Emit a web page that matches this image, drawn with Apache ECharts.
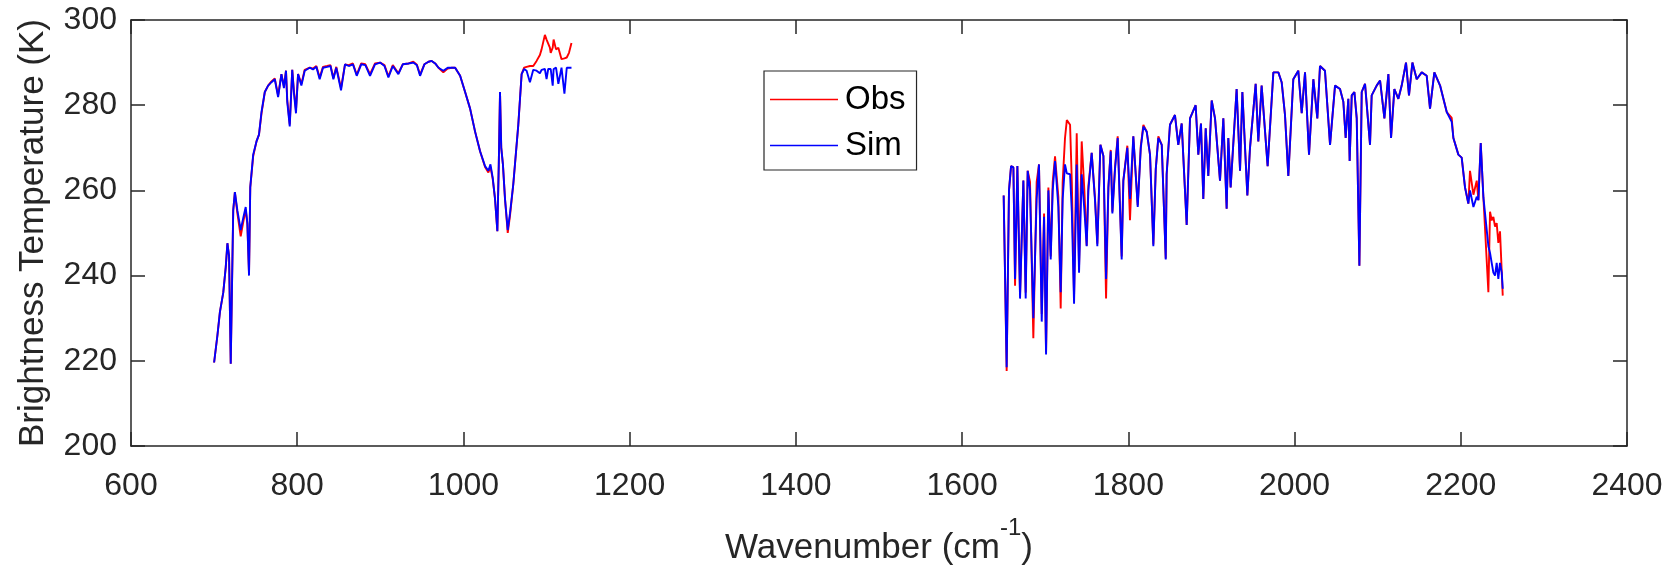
<!DOCTYPE html>
<html>
<head>
<meta charset="utf-8">
<script src="https://cdn.jsdelivr.net/npm/echarts@6/dist/echarts.min.js"></script>
<style>
html,body{margin:0;padding:0;background:#fff;}
#chart{width:1680px;height:571px;}
</style>
</head>
<body>
<div id="chart"></div>
<script>
// ---- Data ----
// Band 1 (long-wave window)
var wn1 = [700,704,707,711,714,716,718,720,723,725,728,732,735,738,740,742,743.5,747,751,754,757,761,765,769,773,777,781,784,786.5,788,791,794,796,798.5,801,805,809,815,819,823,827,831,836,840,843.5,847,852.7,857.5,862,867,871.6,877,882,887.6,893.6,899.7,905,909.7,915,921.7,927,934,939.7,944,947.8,953,958,961.8,966,970,975.8,981,986,990,996,1002,1008,1014,1020,1026,1030,1032.5,1035.2,1038,1040.8,1042.5,1044,1045.5,1047.5,1050,1053.3,1056,1060,1066,1070,1073,1076,1080,1084,1088,1092,1094,1098,1100,1102,1104,1105,1107.4,1108.5,1111.4,1114.2,1118,1121.5,1124.3,1127,1130];
var sim1 = [219.6,226,231.5,236,242,247.6,244.6,219.3,255.3,259.6,255.3,250.7,253.5,256.1,252.3,240,260.7,268.4,271.5,273.1,278.4,283.1,284.6,285.4,286.1,281.9,287.3,284,288.1,280.8,275,288.3,283,278.1,287.3,284.6,288.1,288.8,288.4,289,286.1,288.8,289,289.2,286.1,288.8,283.5,289.6,289.2,289.6,286.9,289.6,289.4,286.9,289.6,290,289.2,286.5,289.2,287.3,289.6,289.8,290,289.4,286.9,289.6,290.2,290.4,289.8,288.8,288.1,288.8,288.8,288.8,286.9,283.1,279.2,273.8,269.2,265.7,264.6,266.1,263,258,250.4,266,283.1,270,266.1,258,250.7,254.6,261.5,275.4,287.3,288.5,288.1,285.4,288.3,288.1,287.5,288.3,288.5,286.1,288.5,288.8,288.5,284.6,288.5,288.8,285,288.8,282.7,288.8,288.8,288.8];
var obs1 = [219.6,226,231.5,236,242,247.6,244.6,219.3,255.3,259.6,254.6,249.2,252.5,255.5,252,240.5,260.7,268,271.5,273.1,278,283.1,284.6,285.6,286.3,282.3,287.3,284.5,288.1,281.3,275.5,288.3,283.5,278.8,287.3,285,288.3,288.8,288.6,289.2,286.5,289,289.2,289.4,286.4,289,284,289.6,289.4,289.8,287.2,289.8,289.6,287.3,289.8,290,289.4,286.8,289.4,287.5,289.6,289.8,290.2,289.5,287.2,289.6,290.2,290.4,289.8,288.8,287.7,288.6,288.8,288.8,286.9,283.1,279.2,273.8,269.2,265.5,264.2,265.5,262.7,258,250.4,266,283.1,270,266.1,258,250,254,261.5,275.4,287.3,288.8,289,289.2,289.2,290.4,291.8,293.1,296.5,295.4,295.5,293.5,292.3,293.5,295.4,293.1,293.5,290.8,291,291.2,292.3,294.6];
// Band 2 (short/mid-wave)
var wn2 = [1650,1653.6,1656.4,1658.9,1661.7,1663.7,1666.5,1669.7,1673.7,1676.5,1678.9,1681.7,1685.7,1689.7,1692.5,1695.8,1698.6,1701,1703.8,1706.6,1709,1711.8,1715.8,1718.6,1721,1723.8,1726,1729.9,1732,1734.7,1737.9,1740.7,1743.9,1747.1,1749.9,1751.9,1755.9,1759.9,1762.7,1766.4,1770,1773.2,1776,1778.8,1780.8,1784,1787.2,1792,1794,1798.8,1802,1806,1811.3,1815,1818.1,1822.1,1826.1,1830.1,1833,1836.1,1840.2,1845,1846.1,1850.1,1856.1,1860.1,1864.2,1870.2,1874.2,1881,1884.2,1887.4,1890.2,1893.1,1896.2,1900.3,1904.3,1910.3,1914.3,1918.3,1920.3,1923.1,1930.3,1934.4,1937.2,1943.2,1946.4,1953.2,1956.4,1960.4,1967.6,1974.5,1980.5,1984.5,1988.5,1992.5,1998.5,2004.5,2008.6,2012.6,2017.4,2022.6,2027.4,2030.6,2036.6,2042.7,2048.7,2054.7,2058.7,2061.5,2064.7,2066.3,2068.8,2072,2074.8,2078,2080.8,2084.8,2090.8,2092.8,2098.8,2102.9,2108.1,2112.9,2116.1,2120.1,2124.9,2128.9,2134.1,2137.7,2141.8,2147,2153,2159,2163,2168.2,2175.1,2183.1,2189.1,2191.1,2197.1,2201.1,2205.1,2209.1,2211.1,2215.2,2219.2,2221.2,2224,2227.2,2233.2,2235.2,2237.2,2239.2,2241.2,2243.2,2245.2,2247.2,2249.3,2250.5];
var sim2 = [258.8,218.5,260,265.7,265.4,239.2,265.7,234.6,262.3,234.6,264.6,260,230,258,266.1,229.2,253.8,221.5,260,243.8,260,266.9,256.1,236.1,258,266.1,264,263.8,255,233.4,266.1,240.7,263.8,255.4,246.9,260,268.8,257.7,246.9,270.7,268.1,239.2,260.7,269.2,254.6,265,272.3,243.8,262.3,270,258,272.7,256.1,270,275,273.8,268.4,246.9,265,272.3,270.7,243.8,263.8,275.4,277.7,270.7,275.7,251.9,276.9,280,268.4,275.7,258,274.6,263.4,281.1,276.9,262.3,276.9,255.7,272.3,260.7,283.8,264.6,283.1,258.8,270,285,271.5,284.6,265.7,287.7,287.7,285.4,277.7,263.4,286.1,288.1,278.1,287.7,268.4,286.1,276.9,289.2,288.1,270.7,284.6,283.8,280.8,272.3,281.5,266.9,282.3,283.1,276.9,242.3,283.1,285,270.7,282.3,284.6,285.8,276.9,287.3,272.3,283.8,281.5,284.6,290,282.3,290,286.1,287.7,286.9,279.2,287.7,284.6,278.4,276.1,272.3,268.4,267.7,260.7,256.9,260,256.1,258.5,257.7,271.1,258.4,246.9,245.3,243,240.7,240,243,239.2,243,240.7,236.9];
var obs2 = [258.8,217.6,260,265.7,265.4,237.6,265.7,235.5,262.3,236,264.6,262,225.3,262,266.1,231,254.6,222,260.7,244.5,262,268,258.5,232.3,262,272.3,276.5,275.4,262,235,273.4,242,271.5,260,247,261,268.8,258.2,247.5,270.7,268.1,234.6,260.7,269.5,255,265.5,272.7,244.5,262.3,270.5,253,272.7,256.5,270.5,275.4,273.8,268.4,247.3,265,272.7,270.7,244,263.8,275.4,277.7,270.7,275.7,251.9,276.9,280,268.4,275.7,258,274.6,263.4,281.1,276.9,262.3,276.9,255.7,272.3,260.7,283.8,264.6,283.1,258.8,270,285,271.5,284.6,265.7,287.7,287.7,285.4,277.7,263.4,286.1,288.1,278.1,287.7,268.4,286.1,276.9,289.2,288.1,270.7,284.6,283.8,280.8,272.3,281.5,266.9,282.3,283.1,276.9,242.3,283.1,285,270.7,282.3,284.6,285.8,276.9,287.3,272.3,283.8,281.5,284.6,290,282.3,290,286.1,287.7,286.9,279.2,287.7,284.6,278.4,277,272.3,268.4,267.7,260.7,256.9,264.6,259,262.3,257.7,271.1,258.4,236.1,255,253,253.8,251.5,252.3,247.7,250.4,250,235.3];

var xTicks = {min: 600, max: 2400, step: 200};
var yTicks = {min: 200, max: 300, step: 20};
var seriesNames = ['Obs', 'Sim'];
var seriesColors = ['#ff0000', '#0000ff'];

function pairs(wa, va, wb, vb) {
  var out = [];
  for (var i = 0; i < wa.length; i++) out.push([wa[i], va[i]]);
  out.push([1400, '-']);
  for (var j = 0; j < wb.length; j++) out.push([wb[j], vb[j]]);
  return out;
}

var FONT = '"Liberation Sans", Arial, Helvetica, sans-serif';
var TXT = '#262626';
var TICK_FS = 32, TITLE_FS = 35, LEG_FS = 33;
var axisLine = {show: true, lineStyle: {color: TXT, width: 1.5}};
var axisTick = {show: true, inside: true, length: 14, lineStyle: {color: TXT, width: 1.5}};
var plain = function (v) { return String(v); };

var chart = echarts.init(document.getElementById('chart'), null, {renderer: 'canvas'});
chart.setOption({
  animation: false,
  backgroundColor: '#ffffff',
  grid: {left: 131, right: 53, top: 20, bottom: 118, containLabel: false},
  legend: {
    data: seriesNames,
    orient: 'vertical',
    left: 764, top: 71,
    padding: [12, 11, 8, 6],
    itemGap: 13,
    icon: 'rect',
    itemWidth: 68, itemHeight: 1.5,
    backgroundColor: '#ffffff',
    borderColor: TXT, borderWidth: 1.2,
    textStyle: {fontFamily: FONT, fontSize: LEG_FS, color: '#000', padding: [0, 0, 0, 2]}
  },
  xAxis: [{
    type: 'value', position: 'bottom',
    min: xTicks.min, max: xTicks.max, interval: xTicks.step,
    name: '{a|Wavenumber (cm}{s|-1}{a|)}',
    nameLocation: 'middle', nameGap: 70,
    nameTextStyle: {
      rich: {
        a: {fontFamily: FONT, fontSize: TITLE_FS, color: TXT, lineHeight: 50, verticalAlign: 'bottom'},
        s: {fontFamily: FONT, fontSize: 24, color: TXT, lineHeight: 28, verticalAlign: 'top'}
      }
    },
    axisLine: axisLine, axisTick: axisTick,
    axisLabel: {fontFamily: FONT, fontSize: TICK_FS, color: TXT, margin: 24, formatter: plain},
    splitLine: {show: false}
  }, {
    type: 'value', position: 'top',
    min: xTicks.min, max: xTicks.max, interval: xTicks.step,
    axisLine: axisLine, axisTick: axisTick,
    axisLabel: {show: false}, splitLine: {show: false}
  }],
  yAxis: [{
    type: 'value', position: 'left',
    min: yTicks.min, max: yTicks.max, interval: yTicks.step,
    name: 'Brightness Temperature (K)',
    nameLocation: 'middle', nameGap: 80,
    nameTextStyle: {fontFamily: FONT, fontSize: TITLE_FS, color: TXT},
    axisLine: axisLine, axisTick: axisTick,
    axisLabel: {fontFamily: FONT, fontSize: TICK_FS, color: TXT, margin: 14, formatter: plain},
    splitLine: {show: false}
  }, {
    type: 'value', position: 'right',
    min: yTicks.min, max: yTicks.max, interval: yTicks.step,
    axisLine: axisLine, axisTick: axisTick,
    axisLabel: {show: false}, splitLine: {show: false}
  }],
  series: [{
    name: seriesNames[0], type: 'line', symbol: 'none', connectNulls: false,
    xAxisIndex: 0, yAxisIndex: 0,
    lineStyle: {color: seriesColors[0], width: 1.9},
    itemStyle: {color: seriesColors[0]},
    data: pairs(wn1, obs1, wn2, obs2)
  }, {
    name: seriesNames[1], type: 'line', symbol: 'none', connectNulls: false,
    xAxisIndex: 0, yAxisIndex: 0,
    lineStyle: {color: seriesColors[1], width: 1.9},
    itemStyle: {color: seriesColors[1]},
    data: pairs(wn1, sim1, wn2, sim2)
  }]
});
</script>
</body>
</html>
